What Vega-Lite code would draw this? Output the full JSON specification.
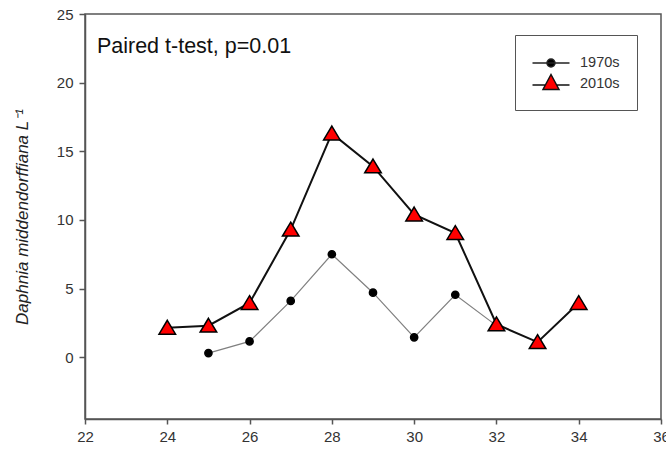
{
  "$schema": "https://vega.github.io/schema/vega-lite/v6.json",
  "width": 576,
  "height": 405,
  "autosize": {"type": "none"},
  "padding": {"left": 85, "top": 14, "right": 5, "bottom": 32},
  "background": "white",
  "config": {
    "view": {"stroke": "#555", "strokeWidth": 1.5},
    "font": "Liberation Sans"
  },
  "datasets": {
    "d": [
      {"series": "1970s", "x": 25, "y": 0.3},
      {"series": "1970s", "x": 26, "y": 1.15},
      {"series": "1970s", "x": 27, "y": 4.1},
      {"series": "1970s", "x": 28, "y": 7.5},
      {"series": "1970s", "x": 29, "y": 4.7},
      {"series": "1970s", "x": 30, "y": 1.45},
      {"series": "1970s", "x": 31, "y": 4.55},
      {"series": "1970s", "x": 32, "y": 2.3},
      {"series": "2010s", "x": 24, "y": 2.15},
      {"series": "2010s", "x": 25, "y": 2.3},
      {"series": "2010s", "x": 26, "y": 3.95},
      {"series": "2010s", "x": 27, "y": 9.3},
      {"series": "2010s", "x": 28, "y": 16.3},
      {"series": "2010s", "x": 29, "y": 13.9},
      {"series": "2010s", "x": 30, "y": 10.4},
      {"series": "2010s", "x": 31, "y": 9.05},
      {"series": "2010s", "x": 32, "y": 2.4},
      {"series": "2010s", "x": 33, "y": 1.1},
      {"series": "2010s", "x": 34, "y": 3.95}
    ],
    "note": [{"x": 22.29, "y": 22.15, "label": "Paired t-test, p=0.01"}]
  },
  "resolve": {"scale": {"shape": "independent", "fill": "independent", "stroke": "independent"}},
  "encoding": {
    "x": {
      "field": "x", "type": "quantitative",
      "scale": {"domain": [22, 36], "nice": false, "zero": false},
      "axis": {
        "title": null, "values": [22, 24, 26, 28, 30, 32, 34, 36], "grid": false,
        "domainColor": "#555", "domainWidth": 1.5, "tickColor": "#555", "tickWidth": 1.5,
        "tickSize": 5, "labelFontSize": 15, "labelColor": "#333", "labelPadding": 5,
        "labelFlush": false, "labelOverlap": false
      }
    },
    "y": {
      "field": "y", "type": "quantitative",
      "scale": {"domain": [-4.5, 25], "nice": false, "zero": false},
      "axis": {
        "title": "Daphnia middendorffiana L⁻¹", "titleFontStyle": "italic", "titleFontSize": 17,
        "titleFontWeight": "normal", "titleColor": "#222", "titlePadding": 25,
        "values": [0, 5, 10, 15, 20, 25], "grid": false,
        "domainColor": "#555", "domainWidth": 1.5, "tickColor": "#555", "tickWidth": 1.5,
        "tickSize": 6, "labelFontSize": 15, "labelColor": "#333", "labelPadding": 6,
        "labelFlush": false, "labelOverlap": false
      }
    }
  },
  "layer": [
    {
      "data": {"name": "d"},
      "transform": [{"filter": "datum.series == '1970s'"}],
      "mark": {"type": "line", "color": "#808080", "strokeWidth": 1.2}
    },
    {
      "data": {"name": "d"},
      "transform": [{"filter": "datum.series == '2010s'"}],
      "mark": {"type": "line", "color": "#111", "strokeWidth": 2}
    },
    {
      "data": {"name": "d"},
      "mark": {"type": "point", "filled": true, "stroke": "black", "strokeWidth": 1.5, "size": 324, "opacity": 1},
      "encoding": {
        "shape": {
          "field": "series", "type": "nominal",
          "scale": {"domain": ["1970s", "2010s"], "range": ["M-0.4,0A0.4,0.4 0 1,0 0.4,0A0.4,0.4 0 1,0 -0.4,0Z", "M0,-0.82L0.92,0.72L-0.92,0.72Z"]},
          "legend": null
        },
        "fill": {
          "field": "series", "type": "nominal",
          "scale": {"domain": ["1970s", "2010s"], "range": ["black", "#ff0000"]},
          "legend": null
        }
      }
    },
    {
      "data": {"name": "d"},
      "transform": [{"filter": "datum.x > 100"}],
      "mark": {"type": "point", "filled": true, "strokeWidth": 1.5, "size": 400, "opacity": 1},
      "encoding": {
        "shape": {
          "field": "series", "type": "nominal",
          "scale": {"domain": ["1970s", "2010s"], "range": ["M-1.05,0H2.65M0.4,0A0.4,0.4 0 1,0 1.2,0A0.4,0.4 0 1,0 0.4,0Z", "M-1.05,0.1H0.24M1.36,0.1H2.65M0.8,-0.95L1.6,0.55L0,0.55Z"]},
          "legend": {
            "title": null, "orient": "none", "legendX": 430, "legendY": 21,
            "strokeColor": "#555", "padding": 17, "fillColor": "white",
            "symbolSize": 400, "symbolStrokeWidth": 1.5,
            "labelFontSize": 14.5, "labelColor": "#333", "labelOffset": 26, "rowPadding": 1
          }
        },
        "fill": {
          "field": "series", "type": "nominal",
          "scale": {"domain": ["1970s", "2010s"], "range": ["black", "#ff0000"]},
          "legend": {
            "title": null, "orient": "none", "legendX": 430, "legendY": 21,
            "strokeColor": "#555", "padding": 17, "fillColor": "white",
            "symbolSize": 400, "symbolStrokeWidth": 1.5,
            "labelFontSize": 14.5, "labelColor": "#333", "labelOffset": 26, "rowPadding": 1
          }
        },
        "stroke": {
          "field": "series", "type": "nominal",
          "scale": {"domain": ["1970s", "2010s"], "range": ["#222", "#111"]},
          "legend": {
            "title": null, "orient": "none", "legendX": 430, "legendY": 21,
            "strokeColor": "#555", "padding": 17, "fillColor": "white",
            "symbolSize": 400, "symbolStrokeWidth": 1.5,
            "labelFontSize": 14.5, "labelColor": "#333", "labelOffset": 26, "rowPadding": 1
          }
        }
      }
    },
    {
      "data": {"name": "note"},
      "mark": {"type": "text", "align": "left", "baseline": "alphabetic", "fontSize": 21.5, "color": "#111", "font": "Liberation Sans"},
      "encoding": {"text": {"field": "label"}}
    }
  ]
}
